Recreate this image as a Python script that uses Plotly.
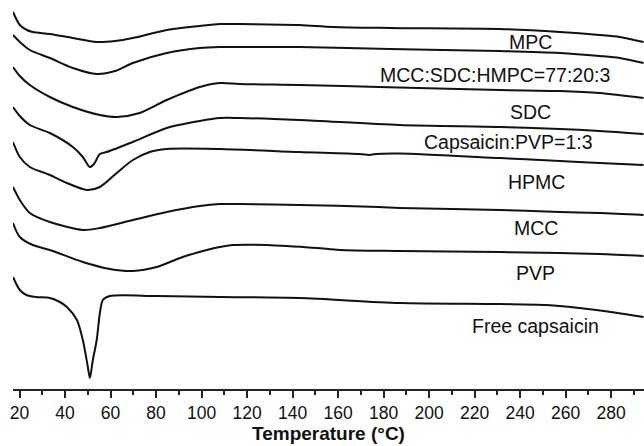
import plotly.graph_objects as go

# DSC thermograms (heat flow, arbitrary offset units)
t_mpc = [17.1, 20.1, 23.2, 25.8, 33.3, 43.4, 53.9, 62.0, 69.8, 84.7, 99.2, 108.0, 116.8, 143.0, 157.6, 182.7, 231.0, 257.5, 275.0, 283.8, 290.0, 294.3]
y_mpc = [377, 364, 359, 357, 355, 351, 347, 348, 351, 359, 363, 365, 365, 364, 362, 361, 360, 357, 354, 352, 349, 347]

t_blend = [17.1, 20.1, 24.5, 33.3, 43.4, 53.9, 62.0, 69.8, 84.7, 99.2, 108.0, 116.8, 143.0, 182.7, 231.0, 257.5, 275.0, 283.8, 294.3]
y_blend = [354, 347, 339, 331, 321, 315, 318, 326, 336, 341, 342, 342, 342, 340, 338, 336, 333, 331, 326]

t_sdc = [17.1, 20.1, 24.5, 33.3, 43.4, 55.3, 62.7, 72.8, 84.7, 99.2, 108.0, 116.8, 143.0, 178.0, 231.0, 257.5, 275.0, 294.3]
y_sdc = [322, 313, 304, 292, 282, 274, 272, 276, 289, 302, 306, 305, 304, 302, 299, 298, 296, 291]

t_cpvp = [17.1, 20.1, 24.5, 33.3, 43.4, 47.8, 50.9, 52.7, 55.3, 58.3, 69.8, 84.7, 99.2, 108.0, 116.8, 143.0, 187.0, 231.0, 257.5, 275.0, 294.3]
y_cpvp = [282, 273, 264, 256, 242, 232, 222, 225, 235, 237, 247, 261, 268, 271, 271, 269, 264, 262, 260, 258, 255]

t_hpmc = [17.1, 20.1, 24.5, 33.3, 40.8, 49.6, 55.3, 62.7, 69.8, 77.2, 84.7, 108.0, 143.0, 169.5, 173.9, 176.5, 187.0, 231.0, 257.5, 275.0, 294.3]
y_hpmc = [247, 232, 222, 214, 206, 199, 202, 216, 229, 237, 240, 240, 237, 235, 234, 235, 235.5, 231, 228, 226, 224]

t_mcc = [17.1, 20.1, 24.5, 33.3, 47.8, 55.3, 69.8, 84.7, 99.2, 108.0, 116.8, 143.0, 178.0, 187.0, 231.0, 257.5, 275.0, 294.3]
y_mcc = [202, 189, 176, 167, 159, 161, 169, 177, 183, 185, 185, 184, 182, 181, 179, 177, 176, 174]

t_pvp = [17.1, 20.1, 25.8, 33.3, 47.8, 59.7, 69.8, 80.3, 91.7, 102.3, 108.0, 113.7, 128.6, 150.6, 160.7, 187.0, 231.0, 257.5, 275.0, 294.3]
y_pvp = [166, 152, 144, 139, 127, 120, 118, 122, 132, 139, 142, 144, 144, 141, 139, 138, 137, 136, 135, 133]

t_free = [17.1, 20.1, 23.0, 27.0, 33.3, 37.7, 40.8, 45.2, 47.8, 50.0, 50.9, 52.2, 53.9, 55.3, 56.6, 59.7, 80.0, 108.0, 143.0, 187.0, 231.0, 251.7, 273.5, 294.3]
y_free = [112, 99, 94, 92, 91, 87, 82, 69, 49, 22, 11, 29, 49, 76, 89, 93, 93, 92, 91, 86, 85, 84, 79, 72]

labels = ["MPC", "MCC:SDC:HMPC=77:20:3", "SDC", "Capsaicin:PVP=1:3", "HPMC", "MCC", "PVP", "Free capsaicin"]
label_t = [244.4, 229.0, 244.4, 235.0, 247.4, 247.0, 246.6, 247.0]
label_y = [347, 314, 277, 247, 207, 161, 116, 63]

series = [(t_mpc, y_mpc), (t_blend, y_blend), (t_sdc, y_sdc), (t_cpvp, y_cpvp),
          (t_hpmc, y_hpmc), (t_mcc, y_mcc), (t_pvp, y_pvp), (t_free, y_free)]

FONT = "Liberation Sans, Arial, sans-serif"

fig = go.Figure()
for (tx, ty), name in zip(series, labels):
    fig.add_trace(go.Scatter(x=tx, y=ty, mode="lines", name=name,
                             line=dict(color="#111111", width=2, shape="spline", smoothing=0.8),
                             showlegend=False, hoverinfo="skip"))

for txt, lx, ly in zip(labels, label_t, label_y):
    fig.add_annotation(x=lx, y=ly, text=txt, showarrow=False,
                       font=dict(size=19.5, color="#111111", family=FONT),
                       xanchor="center", yanchor="middle")

fig.add_annotation(xref="paper", yref="paper", x=0.5, y=-(434 - 389) / 389,
                   text="<b>Temperature (°C)</b>", showarrow=False,
                   font=dict(size=19, color="#111111", family=FONT),
                   xanchor="center", yanchor="middle")

fig.update_layout(
    width=644, height=446,
    margin=dict(l=13, r=0, t=0, b=57),
    paper_bgcolor="white", plot_bgcolor="white",
    font=dict(family=FONT, color="#111111"),
    xaxis=dict(range=[17.1, 294.5], showgrid=False, zeroline=False,
               showline=True, linecolor="#222222", linewidth=1.5,
               ticks="outside", ticklen=7, tickwidth=1.5, tickcolor="#222222",
               tick0=0, dtick=20, tickfont=dict(size=17.5, color="#111111"),
               minor=dict(ticks="outside", ticklen=4, tickwidth=1.5, tickcolor="#222222",
                          tick0=0, dtick=10, showgrid=False)),
    yaxis=dict(range=[0, 389], visible=False, showgrid=False, zeroline=False),
)

fig.write_html("out.html")
